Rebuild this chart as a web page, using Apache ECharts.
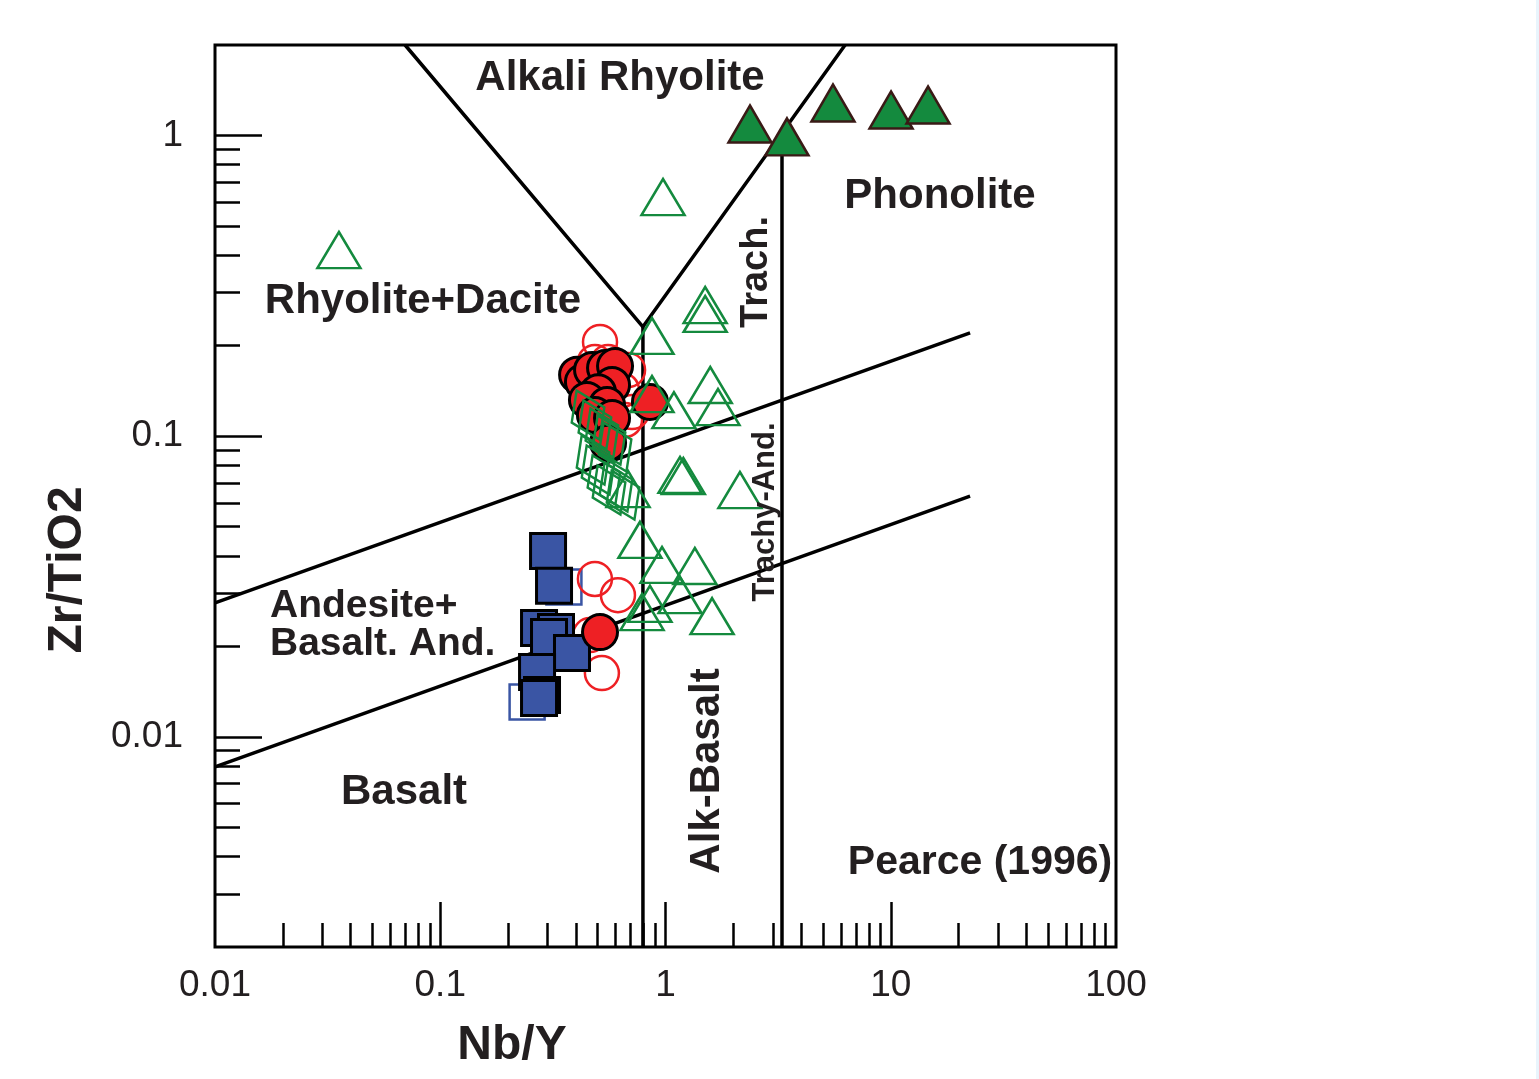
<!DOCTYPE html>
<html>
<head>
<meta charset="utf-8">
<title>Pearce (1996) Nb/Y vs Zr/TiO2</title>
<script src="https://cdn.jsdelivr.net/npm/echarts@6/dist/echarts.min.js"></script>
<style>
  html, body { margin: 0; padding: 0; background: #e9f4fc; }
  #chart { width: 1536px; height: 1079px; background: #ffffff; }
</style>
</head>
<body>
<div id="chart"></div>
<script>
// tick values
var xMinorTicks = [0.02, 0.03, 0.04, 0.05, 0.06, 0.07, 0.08, 0.09,
  0.2, 0.3, 0.4, 0.5, 0.6, 0.7, 0.8, 0.9,
  2, 3, 4, 5, 6, 7, 8, 9,
  20, 30, 40, 50, 60, 70, 80, 90];
var xMajorTicks = [0.1, 1, 10];
var xLabels = [0.01, 0.1, 1, 10, 100];
var yMinorTicks = [0.003, 0.004, 0.005, 0.006, 0.007, 0.008, 0.009,
  0.02, 0.03, 0.04, 0.05, 0.06, 0.07, 0.08, 0.09,
  0.2, 0.3, 0.4, 0.5, 0.6, 0.7, 0.8, 0.9];
var yMajorTicks = [0.01, 0.1, 1];
var yLabels = [0.01, 0.1, 1];

// field boundaries [Nb/Y, Zr/TiO2]
var lineV = [[0.0698, 2], [0.794, 0.231], [6.27, 2]];
var lineAlkBasalt = [[0.794, 0.231], [0.794, 0.002]];
var lineTrach = [[3.29, 1.02], [3.29, 0.002]];
var lineUpper = [[0.01, 0.0279], [22.5, 0.2205]];
var lineLower = [[0.01, 0.00794], [22.5, 0.0632]];

// samples [Nb/Y, Zr/TiO2]
var openSquares = [[0.354, 0.0315], [0.243, 0.01305]];
var openCircles = [[0.512, 0.2057], [0.486, 0.1765], [0.556, 0.1765], [0.682, 0.166],
  [0.641, 0.1424], [0.710, 0.1203], [0.661, 0.1132],
  [0.486, 0.0335], [0.615, 0.0296], [0.462, 0.0218], [0.522, 0.0163]];
var filledSquares = [[0.301, 0.0415], [0.320, 0.0318], [0.2745, 0.0230], [0.3265, 0.0223],
  [0.304, 0.0215], [0.3845, 0.0190], [0.269, 0.01643], [0.283, 0.01377], [0.2745, 0.01346]];
var filledCircles = [[0.405, 0.160], [0.430, 0.1515], [0.472, 0.166], [0.539, 0.1685],
  [0.597, 0.171], [0.579, 0.148], [0.502, 0.140], [0.448, 0.132], [0.550, 0.127],
  [0.486, 0.1176], [0.579, 0.115], [0.853, 0.130], [0.556, 0.095], [0.512, 0.0223]];
var openTriangles = [[0.0355, 0.416], [0.975, 0.624], [1.50, 0.273], [1.50, 0.255],
  [0.871, 0.2155], [0.871, 0.138], [1.09, 0.122], [1.58, 0.148], [1.71, 0.125],
  [1.16, 0.0743], [1.20, 0.0737], [2.14, 0.0662], [0.682, 0.0667],
  [0.770, 0.0452], [0.965, 0.0373], [1.35, 0.0370], [1.16, 0.0296],
  [0.787, 0.0260], [0.853, 0.0277], [1.61, 0.0252]];
var diamonds = [[0.453, 0.1176], [0.486, 0.109], [0.522, 0.1024], [0.5615, 0.0971],
  [0.597, 0.0920], [0.477, 0.0833], [0.502, 0.0772], [0.533, 0.0715],
  [0.5615, 0.0662], [0.603, 0.0677], [0.648, 0.0637]];
var filledTriangles = [[2.372, 1.092], [3.462, 0.989], [5.54, 1.283], [10.03, 1.216], [14.64, 1.263]];

var font = "'Liberation Sans', Arial, Helvetica, sans-serif";
var ink = '#231f20';
var green = '#148a3e';
var red = '#ee2024';
var blue = '#3a55a4';

function boundary(data) {
  return {
    type: 'line', data: data, xAxisIndex: 0, yAxisIndex: 0,
    showSymbol: false, silent: true, z: 1,
    lineStyle: { color: '#000', width: 3.5 }
  };
}

function scatter(data, symbol, size, style, rotate) {
  style.opacity = 1;
  return {
    type: 'scatter', data: data, xAxisIndex: 0, yAxisIndex: 0,
    symbol: symbol, symbolSize: size, symbolRotate: rotate || 0,
    itemStyle: style, z: 3
  };
}

function label(text, x, y, size, rot, align) {
  return {
    type: 'text', x: x, y: y, rotation: rot || 0, z: 10,
    style: {
      text: text, fill: ink, fontFamily: font, fontWeight: 'bold',
      fontSize: size, align: align || 'center', verticalAlign: 'middle'
    }
  };
}

var chart = echarts.init(document.getElementById('chart'));
chart.setOption({
  animation: false,
  backgroundColor: '#ffffff',
  grid: { left: 215, top: 45, width: 901, height: 902, show: true, borderColor: '#000', borderWidth: 3, backgroundColor: 'transparent' },
  xAxis: [
    {
      type: 'log', logBase: 10, min: 0.01, max: 100, position: 'bottom',
      axisLine: { show: false }, splitLine: { show: false },
      axisTick: { show: true, inside: true, length: 24, customValues: xMinorTicks, lineStyle: { color: '#000', width: 2.5 } },
      axisLabel: { show: false }
    },
    {
      type: 'log', logBase: 10, min: 0.01, max: 100, position: 'bottom',
      axisLine: { show: false }, splitLine: { show: false },
      axisTick: { show: true, inside: true, length: 45, customValues: xMajorTicks, lineStyle: { color: '#000', width: 2.5 } },
      axisLabel: { show: true, customValues: xLabels, margin: 20, color: ink, fontSize: 37, fontFamily: font,
        formatter: function (v) { return String(v); } }
    }
  ],
  yAxis: [
    {
      type: 'log', logBase: 10, min: 0.002, max: 2, position: 'left',
      axisLine: { show: false }, splitLine: { show: false },
      axisTick: { show: true, inside: true, length: 25, customValues: yMinorTicks, lineStyle: { color: '#000', width: 2.5 } },
      axisLabel: { show: false }
    },
    {
      type: 'log', logBase: 10, min: 0.002, max: 2, position: 'left',
      axisLine: { show: false }, splitLine: { show: false },
      axisTick: { show: true, inside: true, length: 47, customValues: yMajorTicks, lineStyle: { color: '#000', width: 2.5 } },
      axisLabel: { show: true, customValues: yLabels, margin: 32, color: ink, fontSize: 37, fontFamily: font,
        padding: [14, 0, 0, 0],
        formatter: function (v) { return String(v); } }
    }
  ],
  series: [
    boundary(lineV),
    boundary(lineAlkBasalt),
    boundary(lineTrach),
    boundary(lineUpper),
    boundary(lineLower),
    scatter(openSquares, 'rect', 35, { color: 'transparent', borderColor: blue, borderWidth: 2.5 }),
    scatter(openCircles, 'circle', 34, { color: 'transparent', borderColor: red, borderWidth: 2.5 }),
    scatter(filledSquares, 'rect', 35, { color: blue, borderColor: '#000', borderWidth: 3 }),
    scatter(filledCircles, 'circle', 35, { color: red, borderColor: '#000', borderWidth: 3 }),
    scatter(openTriangles, 'triangle', [43, 36], { color: 'transparent', borderColor: green, borderWidth: 2.5 }),
    scatter(diamonds, 'diamond', [36, 54], { color: 'transparent', borderColor: green, borderWidth: 2.5 }, 25),
    scatter(filledTriangles, 'triangle', [43, 37], { color: green, borderColor: '#3a1a16', borderWidth: 2.5 })
  ],
  graphic: [
    label('Alkali Rhyolite', 620, 78, 42),
    label('Phonolite', 940, 196, 42),
    label('Rhyolite+Dacite', 423, 301, 42),
    label('Trach.', 757, 272, 38, Math.PI / 2),
    label('Trachy-And.', 765, 512, 31, Math.PI / 2),
    label('Andesite+', 270, 606, 39, 0, 'left'),
    label('Basalt. And.', 270, 644, 39, 0, 'left'),
    label('Basalt', 404, 792, 42),
    label('Alk-Basalt', 707, 771, 42, Math.PI / 2),
    label('Pearce (1996)', 980, 863, 41),
    label('Nb/Y', 512, 1046, 48),
    label('Zr/TiO2', 68, 570, 48, Math.PI / 2)
  ]
});
</script>
</body>
</html>
